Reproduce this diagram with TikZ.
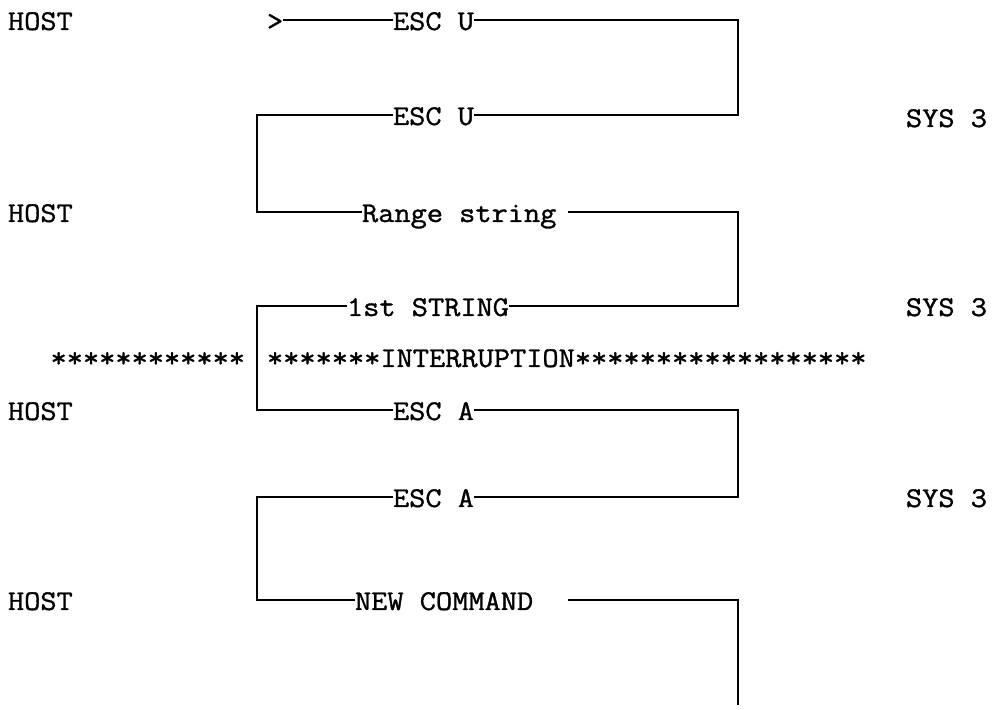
\documentclass[tikz,border=0pt]{standalone}
\usepackage{fontspec}
\newfontfamily\typewr[FakeStretch=1.1,FakeBold=1.2]{Latin Modern Mono}
\usetikzlibrary{positioning}

\begin{document}
\begin{tikzpicture}[x=0.5pt, y=-0.5pt, line width=1pt,
		every node/.style={font=\typewr\fontsize{14.3}{16}\selectfont},
		t/.style={inner sep=0pt, outer sep=0pt, text height=10pt, text depth=0pt, anchor=west}]
		\useasboundingbox (0,0) rectangle (996,710);
		% side labels
		\node[t] (host1) at (8,20) {HOST};
		\node[t] (host2) at (8,212) {HOST};
		\node[t] (host3) at (8,410) {HOST};
		\node[t] (host4) at (8,600) {HOST};
		\node[t] (sys1) at (906,117) {SYS 3};
		\node[t] (sys2) at (906,306) {SYS 3};
		\node[t] (sys3) at (906,497) {SYS 3};
		% messages
		\node[t] (gt) at (267,20) {>};
		\node[t] (escu1) at (393,20) {ESC U};
		\node[t] (escu2) at (393,115) {ESC U};
		\node[t] (range) at (362,212) {Range string};
		\node[t] (first) at (347,306) {1st STRING};
		\node[t] (esca1) at (393,410) {ESC A};
		\node[t] (esca2) at (393,497) {ESC A};
		\node[t] (newcmd) at (355,600) {NEW COMMAND};
		\node[t, anchor=east] (starl) at (245,357) {************};
		\node[t] (starr) at (267,357) {*******INTERRUPTION******************};
		% corners
		\coordinate (c1) at (738,20);  \coordinate (c2) at (738,115);
		\coordinate (c3) at (257,115); \coordinate (c4) at (257,212);
		\coordinate (r3) at (568,212); \coordinate (c5) at (738,212);
		\coordinate (c6) at (738,306); \coordinate (c7) at (257,306);
		\coordinate (c8) at (257,410); \coordinate (c9) at (738,410);
		\coordinate (c10) at (738,497); \coordinate (c11) at (257,497);
		\coordinate (c12) at (257,600); \coordinate (r8) at (568,600);
		\coordinate (c13) at (738,600); \coordinate (c14) at (738,705);
		\draw (gt) -- (escu1);
		\draw (escu1) -- (c1) -- (c2) -- (escu2);
		\draw (escu2) -- (c3) -- (c4) -- (range);
		\draw (r3) -- (c5) -- (c6) -- (first);
		\draw (first) -- (c7) -- (c8) -- (esca1);
		\draw (esca1) -- (c9) -- (c10) -- (esca2);
		\draw (esca2) -- (c11) -- (c12) -- (newcmd);
		\draw (r8) -- (c13) -- (c14);
\end{tikzpicture}
\end{document}
